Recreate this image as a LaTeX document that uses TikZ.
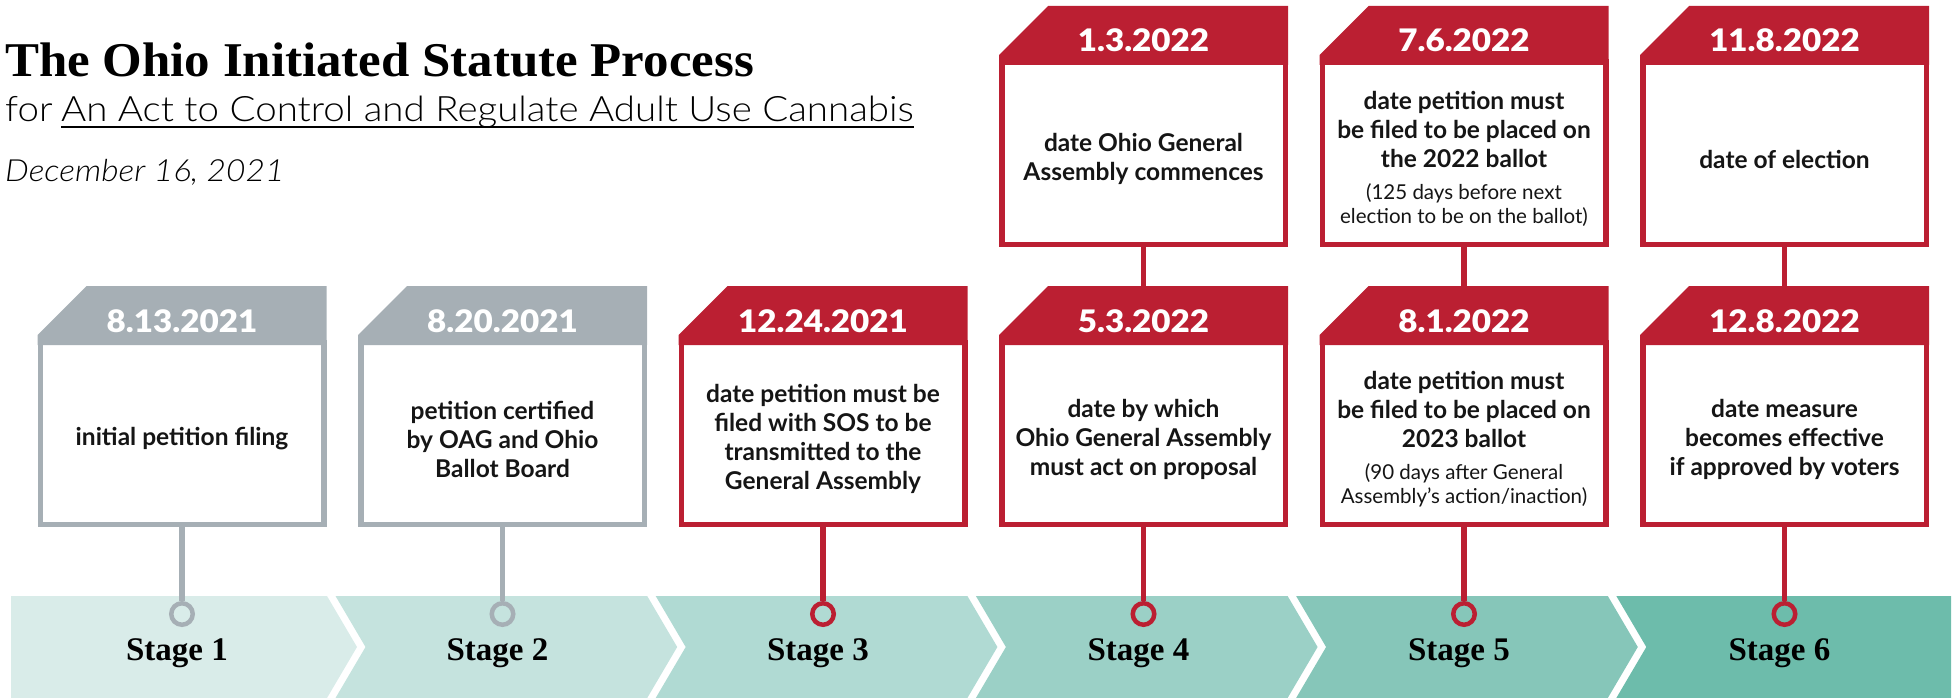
\documentclass[tikz,border=0pt]{standalone}
\usepackage{fontspec}
\setmainfont{Lato}
\IfFontExistsTF{Lato Light}{\newfontfamily\lightf{Lato Light}[FakeStretch=1.1]}{\newfontfamily\lightf{Lato}[FakeStretch=1.1]}
\IfFontExistsTF{Lato Black}{\newfontfamily\blackf{Lato Black}[FakeStretch=1.07]}{\newcommand\blackf{\bfseries}}
\newfontfamily\titlef{Liberation Serif}[FakeStretch=1.05]
\newfontfamily\stagef{Liberation Serif}
\definecolor{tred}{HTML}{BB1F32}
\definecolor{tgray}{HTML}{A6AFB5}
\definecolor{st1}{HTML}{D9ECE9}
\definecolor{st2}{HTML}{C5E3DE}
\definecolor{st3}{HTML}{B0DAD3}
\definecolor{st4}{HTML}{9BD0C6}
\definecolor{st5}{HTML}{86C6B9}
\definecolor{st6}{HTML}{6DBCAB}
\definecolor{ink}{HTML}{151515}
\tikzset{
  body/.style={rectangle, fill=white, line width=5.5pt, minimum width=283.5pt, minimum height=182pt, inner sep=0pt},
  hdr/.style={rectangle, minimum width=289pt, minimum height=59pt, inner sep=0pt, outer sep=0pt, text height=33pt, text depth=0pt, text=white, font=\blackf\fontsize{31}{36}\selectfont},
  desc/.style={align=center, inner sep=0pt, text=ink, font=\bfseries\fontsize{24.5}{29}\selectfont},
  conn/.style={line width=5.5pt},
  ring/.style={circle, line width=4.5pt, minimum size=21.5pt, inner sep=0pt},
  stagelbl/.style={anchor=base, inner sep=0pt, text=black, font=\stagef\bfseries\fontsize{33}{36}\selectfont},
  headline/.style={anchor=base west, inner sep=0pt, text=black},
}
\newcommand{\smalltxt}{\mdseries\fontsize{20.5}{24}\selectfont}
% #1 name, #2 x centre, #3 top, #4 colour, #5 date, #6 text
\newcommand{\tlbox}[6]{%
  \node[body, draw=#4] (#1) at (#2, #3+147.25) {};
  \fill[#4] (#2-144.5, #3+49) -- (#2-95.5, #3) -- (#2+144.5, #3) -- (#2+144.5, #3+59) -- (#2-144.5, #3+59) -- cycle;
  \node[hdr] (#1-h) at (#2, #3+29.5) {#5};
  \node[desc] (#1-d) at (#2, #3+153) {#6};
}
\begin{document}
\begin{tikzpicture}[x=1pt,y=-1pt]
\useasboundingbox (0,0) rectangle (1957,698);
% stage band
\fill[st1] (11,596) -- (327,596) -- (357,647) -- (327,698) -- (11,698) -- cycle;
\fill[st2] (335.5,596) -- (647.2,596) -- (677.2,647) -- (647.2,698) -- (335.5,698) -- (365.5,647) -- cycle;
\fill[st3] (655.7,596) -- (967.4,596) -- (997.4,647) -- (967.4,698) -- (655.7,698) -- (685.7,647) -- cycle;
\fill[st4] (975.9,596) -- (1287.6,596) -- (1317.6,647) -- (1287.6,698) -- (975.9,698) -- (1005.9,647) -- cycle;
\fill[st5] (1296.1,596) -- (1607.8,596) -- (1637.8,647) -- (1607.8,698) -- (1296.1,698) -- (1326.1,647) -- cycle;
\fill[st6] (1616.3,596) -- (1951,596) -- (1951,698) -- (1616.3,698) -- (1646.3,647) -- cycle;
\node[stagelbl] (g1) at (177,660) {Stage 1};
\node[stagelbl] (g2) at (497.5,660) {Stage 2};
\node[stagelbl] (g3) at (818,660) {Stage 3};
\node[stagelbl] (g4) at (1138.5,660) {Stage 4};
\node[stagelbl] (g5) at (1459,660) {Stage 5};
\node[stagelbl] (g6) at (1779.5,660) {Stage 6};
% title block
\node[headline, font=\titlef\bfseries\fontsize{48.5}{50}\selectfont] (title) at (5,77) {The Ohio Initiated Statute Process};
\node[headline, font=\lightf\fontsize{35}{40}\selectfont] (subfor) at (5,122) {for};
\node[headline, font=\lightf\fontsize{35}{40}\selectfont] (subact) at (61,122) {An Act to Control and Regulate Adult Use Cannabis};
\draw[line width=2pt] ([yshift=-5pt]subact.base west) -- ([yshift=-5pt]subact.base east);
\node[headline, font=\lightf\itshape\fontsize{30.5}{34}\selectfont] (when) at (5,182) {December 16, 2021};
% boxes
\tlbox{s1}{182}{286}{tgray}{8.13.2021}{initial petition filing}
\tlbox{s2}{502.5}{286}{tgray}{8.20.2021}{petition certified\\ by OAG and Ohio\\ Ballot Board}
\tlbox{s3}{823}{286}{tred}{12.24.2021}{date petition must be\\ filed with SOS to be\\ transmitted to the\\ General Assembly}
\tlbox{s4}{1143.5}{286}{tred}{5.3.2022}{date by which\\ Ohio General Assembly\\ must act on proposal}
\tlbox{s4t}{1143.5}{6}{tred}{1.3.2022}{date Ohio General\\ Assembly commences}
\tlbox{s5}{1464}{286}{tred}{8.1.2022}{date petition must\\ be filed to be placed on\\ 2023 ballot\\[3pt] {\smalltxt (90 days after General}\\[-5pt] {\smalltxt Assembly’s action/inaction)}}
\tlbox{s5t}{1464}{6}{tred}{7.6.2022}{date petition must\\ be filed to be placed on\\ the 2022 ballot\\[3pt] {\smalltxt (125 days before next}\\[-5pt] {\smalltxt election to be on the ballot)}}
\tlbox{s6}{1784.5}{286}{tred}{12.8.2022}{date measure\\ becomes effective\\ if approved by voters}
\tlbox{s6t}{1784.5}{6}{tred}{11.8.2022}{date of election}
% rings
\node[ring, draw=tgray] (k1) at (182,614) {};
\node[ring, draw=tgray] (k2) at (502.5,614) {};
\node[ring, draw=tred] (k3) at (823,614) {};
\node[ring, draw=tred] (k4) at (1143.5,614) {};
\node[ring, draw=tred] (k5) at (1464,614) {};
\node[ring, draw=tred] (k6) at (1784.5,614) {};
% connectors
\draw[conn, tgray] (s1.south) -- (k1.north);
\draw[conn, tgray] (s2.south) -- (k2.north);
\draw[conn, tred] (s3.south) -- (k3.north);
\draw[conn, tred] (s4.south) -- (k4.north);
\draw[conn, tred] (s5.south) -- (k5.north);
\draw[conn, tred] (s6.south) -- (k6.north);
\draw[conn, tred] (s4t.south) -- (s4-h.north);
\draw[conn, tred] (s5t.south) -- (s5-h.north);
\draw[conn, tred] (s6t.south) -- (s6-h.north);
\end{tikzpicture}
\end{document}
